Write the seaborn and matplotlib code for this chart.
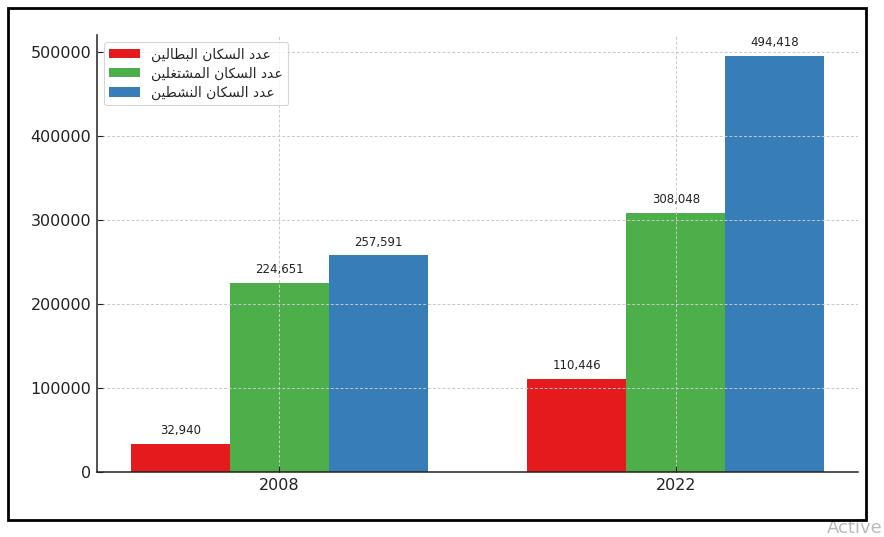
import matplotlib
matplotlib.use("Agg")
import matplotlib.pyplot as plt
import seaborn as sns
import pandas as pd
from matplotlib.patches import Rectangle

years = ["2008", "2022"]
series = ["عدد السكان البطالين", "عدد السكان المشتغلين", "عدد السكان النشطين"]
unemployed = [32940, 110446]
employed = [224651, 308048]
active = [257591, 494418]
colors = ["#e41a1c", "#4daf4a", "#377eb8"]

# --- minimal Arabic shaping (matplotlib has no complex text layout) ---
FORMS = {
    "\u0627": ("\uFE8D", "\uFE8E", None, None),
    "\u0628": ("\uFE8F", "\uFE90", "\uFE91", "\uFE92"),
    "\u062A": ("\uFE95", "\uFE96", "\uFE97", "\uFE98"),
    "\u062F": ("\uFEA9", "\uFEAA", None, None),
    "\u0633": ("\uFEB1", "\uFEB2", "\uFEB3", "\uFEB4"),
    "\u0634": ("\uFEB5", "\uFEB6", "\uFEB7", "\uFEB8"),
    "\u0637": ("\uFEC1", "\uFEC2", "\uFEC3", "\uFEC4"),
    "\u0639": ("\uFEC9", "\uFECA", "\uFECB", "\uFECC"),
    "\u063A": ("\uFECD", "\uFECE", "\uFECF", "\uFED0"),
    "\u0643": ("\uFED9", "\uFEDA", "\uFEDB", "\uFEDC"),
    "\u0644": ("\uFEDD", "\uFEDE", "\uFEDF", "\uFEE0"),
    "\u0645": ("\uFEE1", "\uFEE2", "\uFEE3", "\uFEE4"),
    "\u0646": ("\uFEE5", "\uFEE6", "\uFEE7", "\uFEE8"),
    "\u064A": ("\uFEF1", "\uFEF2", "\uFEF3", "\uFEF4"),
}


def joins_left(c):
    return c in FORMS and FORMS[c][2] is not None


def shape(text):
    out = []
    n = len(text)
    for i, c in enumerate(text):
        if c not in FORMS:
            out.append(c)
            continue
        prev_j = i > 0 and joins_left(text[i - 1])
        next_j = i < n - 1 and text[i + 1] in FORMS
        iso, fin, ini, med = FORMS[c]
        if prev_j and next_j and med:
            out.append(med)
        elif prev_j:
            out.append(fin)
        elif next_j and ini:
            out.append(ini)
        else:
            out.append(iso)
    return "".join(out)[::-1]


df = pd.DataFrame({
    "year": years * 3,
    "series": [series[0]] * 2 + [series[1]] * 2 + [series[2]] * 2,
    "value": unemployed + employed + active,
})
df["label"] = df["series"].map(shape)

sns.set_style("ticks")
plt.rcParams["font.family"] = ["DejaVu Sans"]

fig = plt.figure(figsize=(8.84, 5.37), dpi=100)
ax = fig.add_axes([0.1097, 0.121, 0.861, 0.814])

sns.barplot(data=df, x="year", y="value", hue="label",
            hue_order=[shape(s) for s in series],
            palette=colors, width=0.75, saturation=1, ax=ax,
            edgecolor="none", linewidth=0)

for cont in ax.containers:
    ax.bar_label(cont, labels=[f"{int(v):,}" for v in cont.datavalues],
                 padding=5, fontsize=8.5, color="#222222")

ax.set_xlim(-0.46, 1.46)
ax.set_ylim(0, 520000)
ax.set_yticks([0, 100000, 200000, 300000, 400000, 500000])
ax.set_xlabel("")
ax.set_ylabel("")
ax.tick_params(labelsize=11.5, colors="#222222", length=4, direction="in", pad=4)
ax.grid(True, linestyle=(0, (3, 2)), color="#c8c8c8", linewidth=0.7)
ax.set_axisbelow(False)
for s in ["top", "right"]:
    ax.spines[s].set_visible(False)
for s in ["left", "bottom"]:
    ax.spines[s].set_color("#222222")
    ax.spines[s].set_linewidth(1.1)

leg = ax.legend(loc="upper left", fontsize=10, frameon=True,
                handlelength=2.2, handleheight=0.7,
                borderaxespad=0.5, labelspacing=0.35)
leg.set_title(None)
leg.get_frame().set_edgecolor("#cccccc")
leg.get_frame().set_linewidth(0.8)

fig.patches.append(Rectangle((8 / 884, 1 - 520 / 537), 858 / 884, 512 / 537,
                             transform=fig.transFigure, fill=False,
                             edgecolor="black", linewidth=2, zorder=10))
fig.text(883 / 884, 1 - 528 / 537, "Active", fontsize=13, color="#bbbbbb",
         ha="right", va="center")

fig.savefig("out.png", dpi=100)
